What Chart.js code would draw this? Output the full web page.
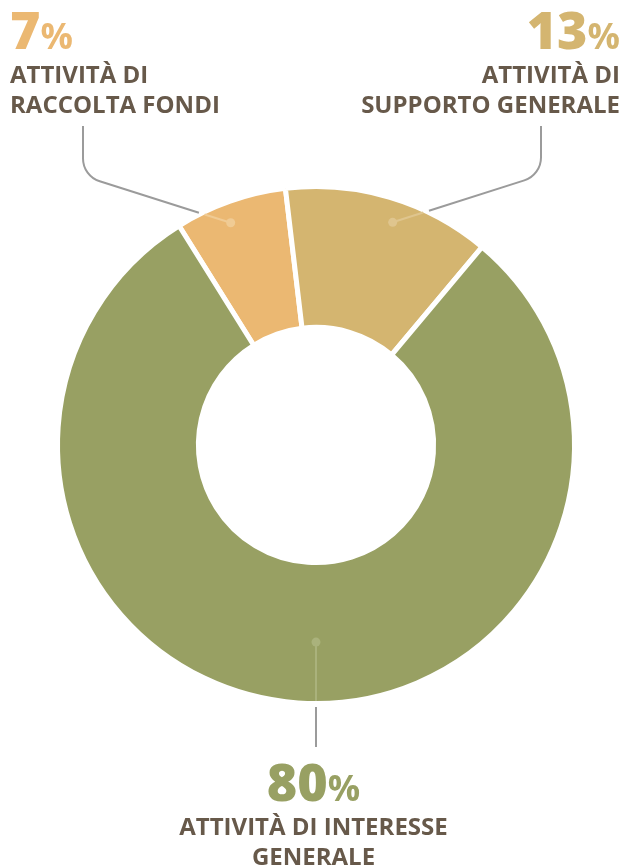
<!DOCTYPE html>
<html lang="it">
<head>
<meta charset="utf-8">
<title>Ripartizione delle attività</title>
<script src="https://cdn.jsdelivr.net/npm/chart.js@4.4.1/dist/chart.umd.min.js"></script>
<style>
  html, body { margin: 0; padding: 0; background: #fff; }
  #wrap { position: relative; width: 627px; height: 868px; overflow: hidden; }
  #chart { position: absolute; left: 0; top: 0; }
  .lbl { position: absolute; font-family: "Open Sans", sans-serif; font-weight: 700; color: #67594a;
         font-size: 24px; line-height: 30px; white-space: nowrap; }
  .pct { font-family: "Open Sans", sans-serif; font-weight: 800; font-size: 52px; line-height: 46px; display: block; }
  .pct small { font-size: 36px; font-weight: 700; }
  .left { left: 10px; text-align: left; }
  .right { right: 7px; text-align: right; }
  .center { left: 0; width: 627px; text-align: center; }
</style>
</head>
<body>
<div id="wrap">
  <canvas id="chart" width="627" height="868"></canvas>
  <div class="lbl left" id="l0" style="top:6px"></div>
  <div class="lbl right" id="l1" style="top:6px"></div>
  <div class="lbl center" id="l2" style="top:758px"></div>
</div>
<script>
// Ripartizione percentuale degli oneri per area di attività
const categories = ['ATTIVITÀ DI\nRACCOLTA FONDI', 'ATTIVITÀ DI\nSUPPORTO GENERALE', 'ATTIVITÀ DI INTERESSE\nGENERALE'];
const shares = [7, 13, 80];

const sliceColors = ['#ebb872', '#d4b570', '#98a063'];
const dotColors = ['#f0cb94', '#dfc58e', '#aab27c'];
const ringGap = 5;

// Etichette testuali: percentuale e descrizione
categories.forEach((name, i) => {
  const el = document.getElementById('l' + i);
  const pct = document.createElement('span');
  pct.className = 'pct';
  pct.style.color = sliceColors[i];
  pct.innerHTML = shares[i] + '<small>%</small>';
  el.appendChild(pct);
  name.split('\n').forEach(line => {
    const d = document.createElement('div');
    d.textContent = line;
    el.appendChild(d);
  });
});

// Linee di richiamo: pallino sulla fetta, tratto chiaro fino al bordo, poi tratto grigio verso il testo
const calloutPlugin = {
  id: 'callouts',
  afterDatasetsDraw(chart, args, opts) {
    const meta = chart.getDatasetMeta(0);
    const ctx = chart.ctx;
    opts.items.forEach((item, i) => {
      const arc = meta.data[i];
      const cx = arc.x, cy = arc.y;
      const R = arc.outerRadius - ringGap / 2;
      const a = (item.angle - 90) * Math.PI / 180;
      const dx = cx + Math.cos(a) * R * item.r;
      const dy = cy + Math.sin(a) * R * item.r;
      const pts = item.path;
      const p1 = pts[0];
      // intersezione del primo tratto con il bordo esterno
      let vx = p1[0] - dx, vy = p1[1] - dy;
      const len = Math.hypot(vx, vy);
      vx /= len; vy /= len;
      const ox = dx - cx, oy = dy - cy;
      const b = ox * vx + oy * vy;
      const c = ox * ox + oy * oy - R * R;
      const t = -b + Math.sqrt(b * b - c);
      ctx.save();
      ctx.lineCap = 'butt';
      ctx.lineWidth = 2;
      ctx.strokeStyle = dotColors[i];
      ctx.beginPath();
      ctx.moveTo(dx, dy);
      ctx.lineTo(dx + vx * t, dy + vy * t);
      ctx.stroke();
      ctx.fillStyle = dotColors[i];
      ctx.beginPath();
      ctx.arc(dx, dy, 4.5, 0, Math.PI * 2);
      ctx.fill();
      ctx.strokeStyle = '#9b9b9b';
      ctx.beginPath();
      ctx.moveTo(dx + vx * (t + 6), dy + vy * (t + 6));
      for (let k = 0; k < pts.length - 1; k++) {
        ctx.arcTo(pts[k][0], pts[k][1], pts[k + 1][0], pts[k + 1][1], 24);
      }
      const last = pts[pts.length - 1];
      ctx.lineTo(last[0], last[1]);
      ctx.stroke();
      ctx.restore();
    });
  }
};

new Chart(document.getElementById('chart'), {
  type: 'doughnut',
  data: {
    labels: categories,
    datasets: [{
      data: shares,
      backgroundColor: sliceColors,
      borderColor: '#ffffff',
      borderWidth: ringGap,
      hoverOffset: 0
    }]
  },
  options: {
    responsive: false,
    animation: false,
    rotation: -32,
    cutout: '45.5%',
    layout: { padding: { left: 55, right: 50, top: 184, bottom: 162 } },
    plugins: {
      legend: { display: false },
      tooltip: { enabled: false },
      callouts: {
        items: [
          { angle: -21, r: 0.93, path: [[83, 176], [83, 126]] },
          { angle: 19, r: 0.92, path: [[541, 175], [541, 126]] },
          { angle: 180, r: 0.77, path: [[316, 747]] }
        ]
      }
    }
  },
  plugins: [calloutPlugin]
});
</script>
</body>
</html>
